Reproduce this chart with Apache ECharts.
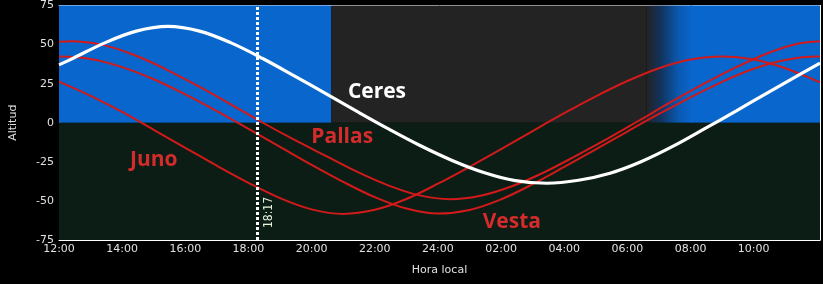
<!DOCTYPE html>
<html><head><meta charset="utf-8">
<script src="https://cdn.jsdelivr.net/npm/echarts@6/dist/echarts.min.js"></script>
<style>html,body{margin:0;padding:0;background:#000}#c{width:823px;height:284px}</style>
</head><body><div id="c"></div>
<script>
// hours since 12:00 local time; altitude in degrees
const hours   = [0,1,2,3,4,5,6,7,8,9,10,11,12,13,14,15,16,17,18,19,20,21,22,23,24,24.1];
const ceresH  = [0,0.45,1.45,2.45,3.45,4.45,5.45,6.45,7.45,8.45,9.45,10.45,11.45,12.45,13.45,14.45,15.45,16.45,17.45,18.45,19.45,20.45,21.45,22.45,23.45,24.1];
const ceresV  = [37,41.3,51.1,58.6,61.6,58.6,51.1,41.1,30,18.6,7.1,-4.1,-14.7,-24.1,-31.8,-37,-38.7,-36.8,-32.3,-24.8,-15,-3.8,7.6,19.3,30.8,38.1];
const pallasH = [0,0.385,1.385,2.385,3.385,4.385,5.385,6.385,7.385,8.385,9.385,10.385,11.385,12.385,13.385,14.385,15.385,16.385,17.385,18.385,19.385,20.385,21.385,22.385,23.385,24.1];
const pallasV = [51.8,52.2,49.8,43.3,34.2,23.7,12.4,0.8,-10.2,-20.5,-30.8,-39.7,-46.3,-48.9,-46.5,-40.3,-31.5,-21,-10,1.6,13.3,24.5,34.9,44,50.5,52.1];
const vestaV  = [42.3,40.8,35.6,27.8,18.1,7.4,-3.9,-15.4,-26.9,-37.8,-47.6,-54.9,-58.1,-55.8,-49,-39.3,-28.3,-17,-5.6,5.6,16.3,26.2,34.5,40.1,42.3,42.3];
const junoV   = [26.3,17.2,6.9,-4.5,-16,-27.5,-38.4,-48.2,-55.4,-58.3,-55.7,-48.8,-39,-28.2,-16.9,-5.3,6.1,16.9,26.7,34.9,40.4,42.4,40.4,34.9,26.7,25.8];
const xTickLabels = ['12:00','14:00','16:00','18:00','20:00','22:00','24:00','02:00','04:00','06:00','08:00','10:00'];
const yMin = -75, yMax = 75, yStep = 25;
const markerHour = 6 + 17/60;
const markerLabel = '18:17';
const names = ['Ceres','Pallas','Vesta','Juno'];
// daylight / night bands (hours since 12:00)
const dayEnd = 8.62, dawnStart = 18.6, dawnEnd = 20.0, xEnd = 24.1;

const pair = (hs, vs) => hs.map((h,i)=>[h, vs[i]]);
const RED = '#d21a1a';
const BLUE = '#0a66cc';

function labelPoint(name, coord, color){
  return {coord, symbol:'rect', symbolSize:[1,1], itemStyle:{color:'transparent'},
    label:{show:true, position:'inside', formatter:name, color, fontFamily:'Open Sans', fontWeight:'bold', fontSize:21}};
}
function skyBands(alpha){
  const a = v => `rgba(${v},${alpha})`;
  const g = alpha === 1
    ? new echarts.graphic.LinearGradient(0,0,1,0,[{offset:0,color:'#232323'},{offset:0.3,color:'#12325a'},{offset:0.7,color:'#0a58b0'},{offset:1,color:BLUE}])
    : new echarts.graphic.LinearGradient(0,0,1,0,[{offset:0,color:'rgba(35,35,35,0)'},{offset:0.3,color:a('18,50,90')},{offset:0.7,color:a('10,88,176')},{offset:1,color:a('10,102,204')}]);
  const out = [
    [{xAxis:0, yAxis:0, itemStyle:{color:a('10,102,204'), borderWidth:0}}, {xAxis:dayEnd, yAxis:yMax}],
    [{xAxis:dawnStart, yAxis:0, itemStyle:{color:g, borderWidth:0}}, {xAxis:dawnEnd + 0.05, yAxis:yMax}],
    [{xAxis:dawnEnd, yAxis:0, itemStyle:{color:a('10,102,204'), borderWidth:0}}, {xAxis:xEnd, yAxis:yMax}]
  ];
  if (alpha === 1) {
    out.push([{xAxis:dayEnd, yAxis:0, itemStyle:{color:'#232323', borderWidth:0}}, {xAxis:dawnStart, yAxis:yMax}]);
    out.push([{xAxis:0, yAxis:yMin, itemStyle:{color:'#0c1d15', borderWidth:0}}, {xAxis:xEnd, yAxis:0}]);
  }
  return out;
}

const chart = echarts.init(document.getElementById('c'), null, {renderer:'canvas'});
const axisCommon = {
  type:'value', splitLine:{show:false},
  axisLine:{show:true, onZero:false, lineStyle:{color:'#fff', width:1}},
  axisTick:{show:true, inside:true, length:5, lineStyle:{color:'#fff'}},
};
chart.setOption({
  backgroundColor:'#000',
  animation:false,
  grid:{left:57, right:3, top:5, bottom:44},
  xAxis:[
    Object.assign({}, axisCommon, {min:0, max:xEnd, interval:2, position:'bottom',
      minorTick:{show:true, splitNumber:4, length:3, lineStyle:{color:'#fff'}},
      axisLabel:{color:'#e0e0e0', fontFamily:'DejaVu Sans', fontSize:11, margin:4,
        formatter:v => (Math.abs(v%2)<1e-9 && v/2 < xTickLabels.length) ? xTickLabels[v/2] : ''},
      name:'Hora local', nameLocation:'middle', nameGap:25,
      nameTextStyle:{color:'#e0e0e0', fontFamily:'DejaVu Sans', fontSize:11}}),
    Object.assign({}, axisCommon, {min:0, max:xEnd, interval:2, position:'top',
      minorTick:{show:true, splitNumber:4, length:3, lineStyle:{color:'#fff'}},
      axisLabel:{show:false}})
  ],
  yAxis:[
    Object.assign({}, axisCommon, {min:yMin, max:yMax, interval:yStep, position:'left',
      minorTick:{show:true, splitNumber:2, length:3, lineStyle:{color:'#fff'}},
      axisLabel:{color:'#e0e0e0', fontFamily:'DejaVu Sans', fontSize:11, margin:5},
      name:'Altitud', nameLocation:'middle', nameGap:40, nameRotate:90,
      nameTextStyle:{color:'#e0e0e0', fontFamily:'DejaVu Sans', fontSize:11}}),
    Object.assign({}, axisCommon, {min:yMin, max:yMax, interval:yStep, position:'right',
      minorTick:{show:true, splitNumber:2, length:3, lineStyle:{color:'#fff'}},
      axisLabel:{show:false}})
  ],
  series:[
    {type:'line', data:[], z:1, silent:true, markArea:{silent:true, data:skyBands(1)}},
    {name:names[3], type:'line', data:pair(hours, junoV), smooth:0.35, showSymbol:false, z:3,
      lineStyle:{color:RED, width:2}},
    {name:names[2], type:'line', data:pair(hours, vestaV), smooth:0.35, showSymbol:false, z:3,
      lineStyle:{color:RED, width:2}},
    {name:names[1], type:'line', data:pair(pallasH, pallasV), smooth:0.35, showSymbol:false, z:3,
      lineStyle:{color:RED, width:2}},
    {type:'line', data:[], z:4, silent:true, markArea:{silent:true, data:skyBands(0.32)}},
    {name:names[0], type:'line', data:pair(ceresH, ceresV), smooth:0.35, showSymbol:false, z:5,
      lineStyle:{color:'#ffffff', width:3.2},
      markPoint:{silent:true, data:[
        labelPoint('Ceres', [10.07, 19.5], '#ffffff'),
        labelPoint('Pallas', [8.97, -9.3], '#d42c2c'),
        labelPoint('Juno', [3.0, -23.9], '#d42c2c'),
        labelPoint('Vesta', [14.34, -63.5], '#d42c2c')
      ]}},
    {type:'line', data:[], z:6, silent:true,
      markLine:{silent:true, symbol:'none', data:[{xAxis:markerHour}],
        lineStyle:{color:'#ffffff', width:3, type:[3,2], opacity:1},
        label:{show:true, formatter:markerLabel, position:'insideStartBottom', color:'#e6f2dc',
          fontFamily:'DejaVu Sans Condensed', fontSize:12, distance:[12,6]}}}
  ]
});
</script></body></html>
